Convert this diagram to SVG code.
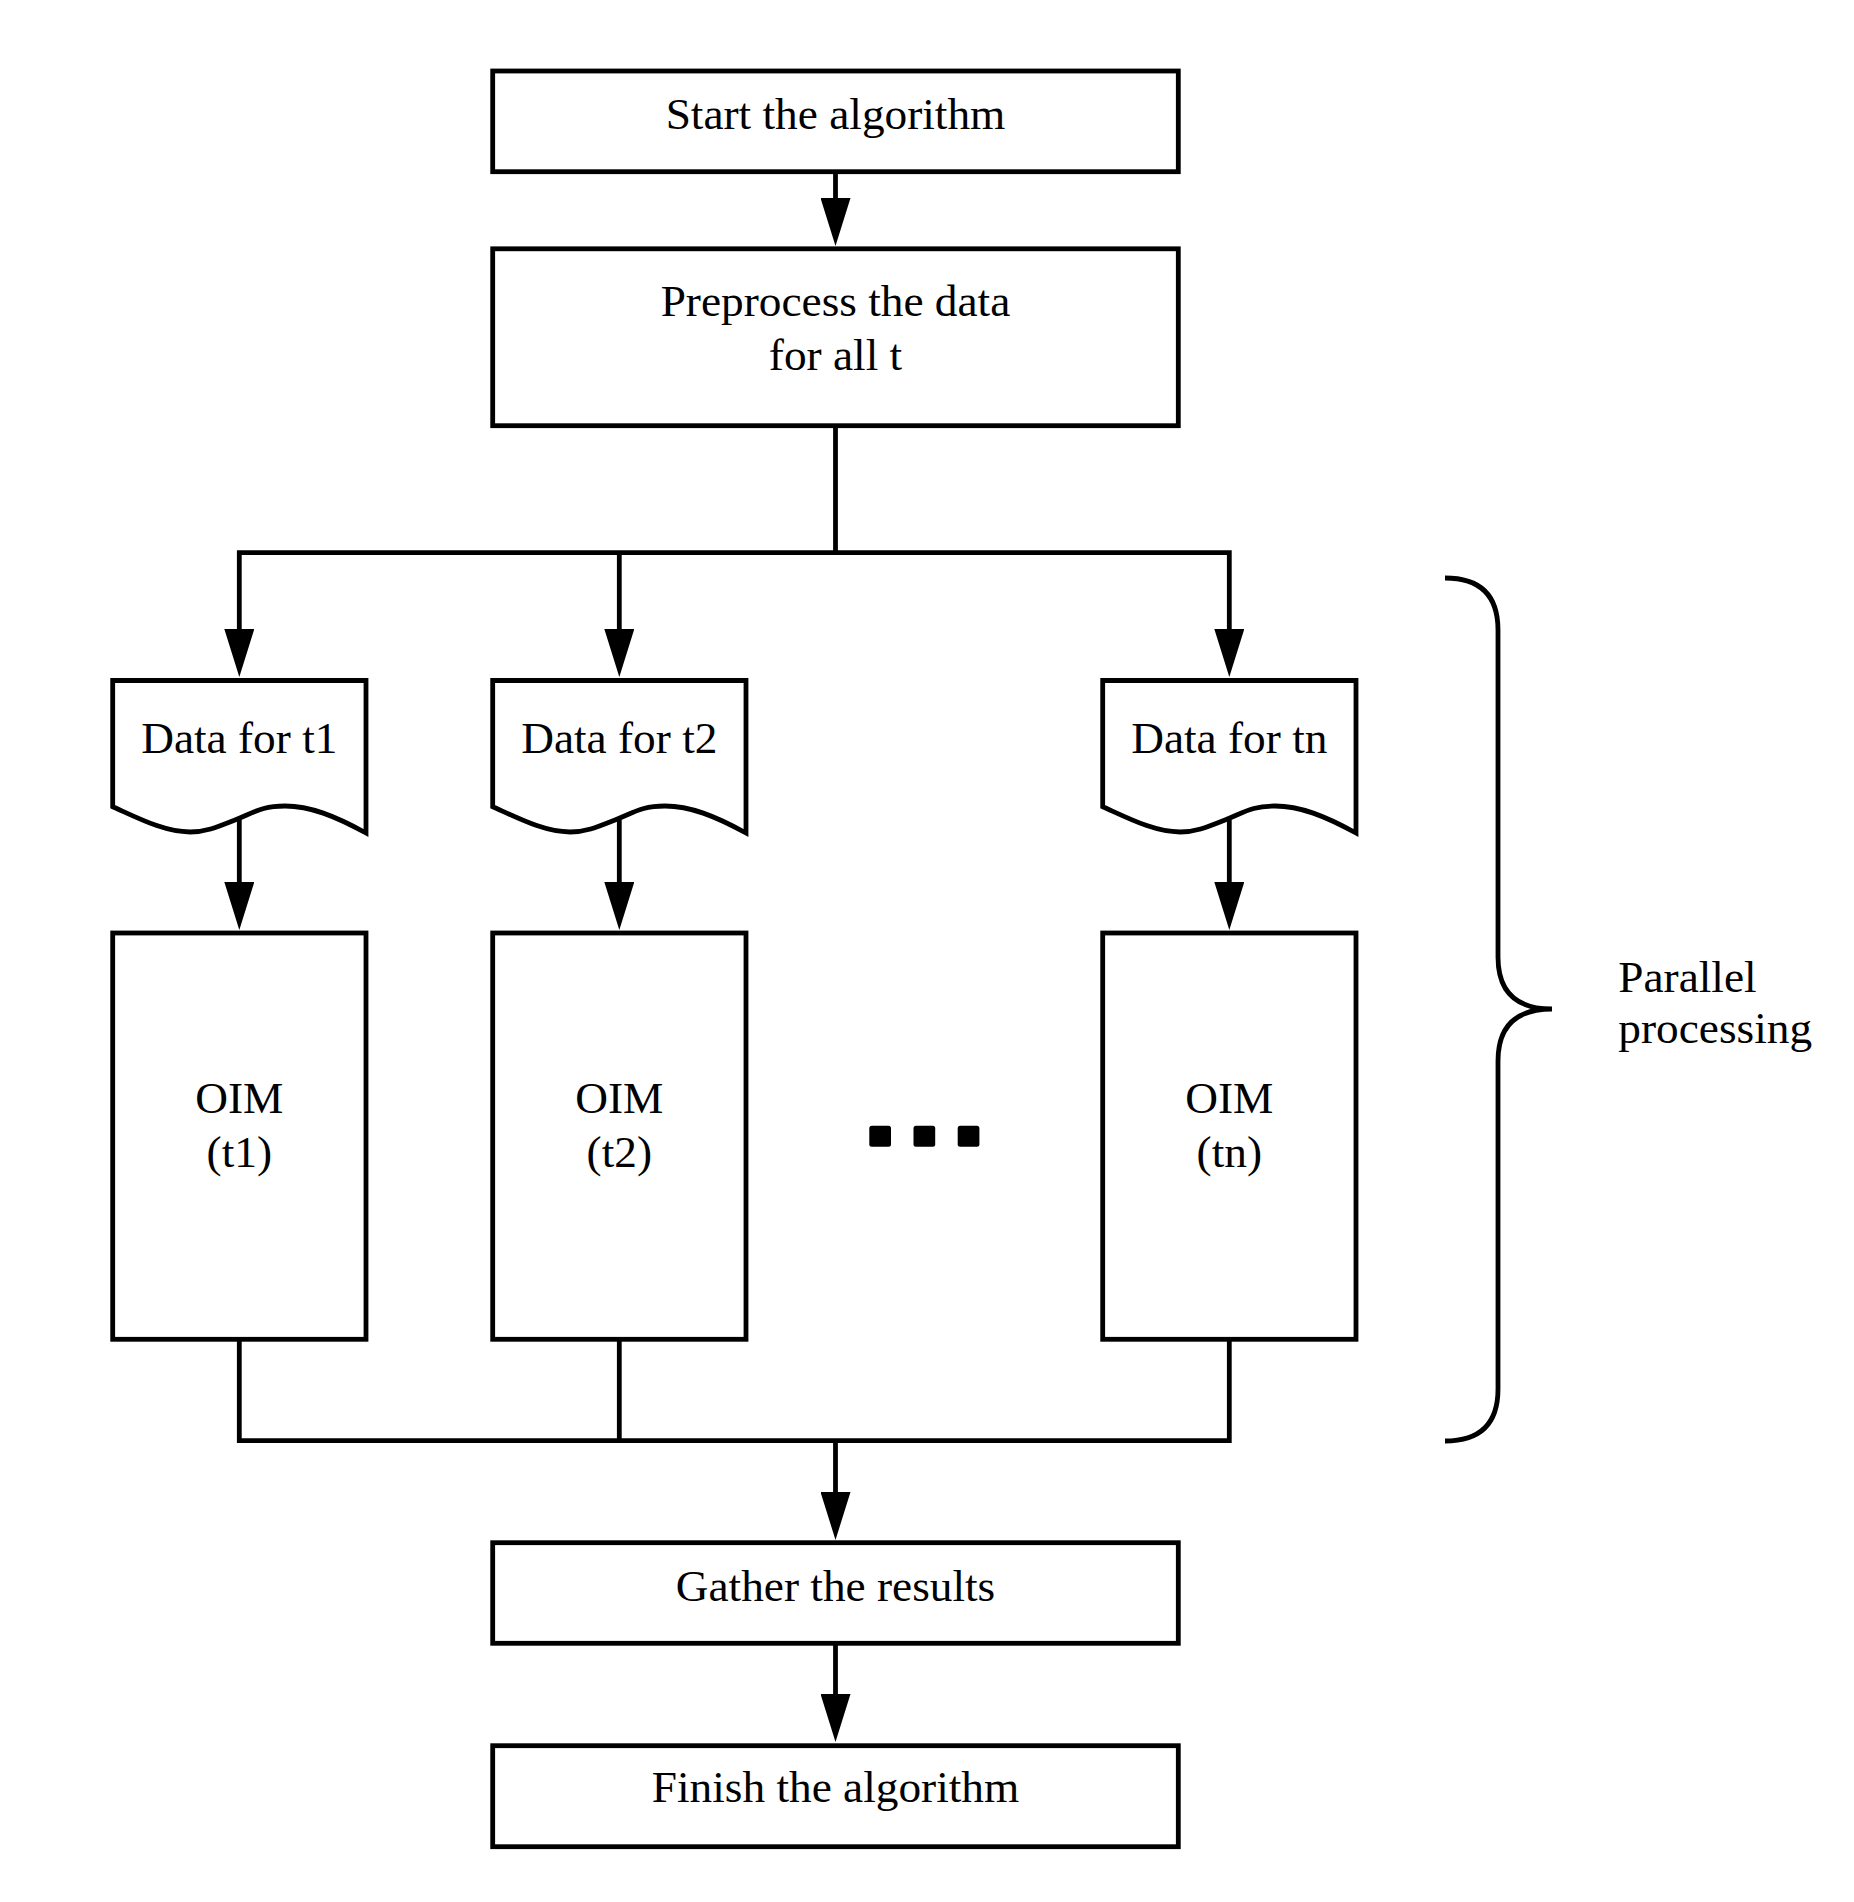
<svg xmlns="http://www.w3.org/2000/svg" width="1854" height="1902" viewBox="0 0 1854 1902">
<style>
.box{fill:#fff;stroke:#000;stroke-width:4.8}
.ln{fill:none;stroke:#000;stroke-width:4.8;stroke-linejoin:miter}
.t{font-family:"Liberation Serif","Times New Roman",serif;font-size:45.3px;fill:#000}
.c{text-anchor:middle}
</style>
<defs>
<marker id="ah" viewBox="0 0 48 30" refX="8" refY="15" markerWidth="48" markerHeight="30" markerUnits="userSpaceOnUse" orient="auto-start-reverse">
<path d="M0,0 L48,15 L0,30 Z" fill="#000"/>
</marker>
<path id="doc" d="M112.7,680.5 H366 V833 C335,816 310,806 285,806 C262,806 255,812 235,820 C215,828 205,832 190,832 C165,832 140,819 112.7,806.7 Z"/>
</defs>
<rect width="1854" height="1902" fill="#fff"/>

<g id="connectors">
<path class="ln" d="M835.5,171.7 V206" marker-end="url(#ah)"/>
<path class="ln" d="M835.5,425.7 V552.7"/>
<path class="ln" d="M239.3,637 V552.7 H1229.3 V637" marker-start="url(#ah)" marker-end="url(#ah)"/>
<path class="ln" d="M619.3,552.7 V637" marker-end="url(#ah)"/>
<path class="ln" d="M239.3,820 V890" marker-end="url(#ah)"/>
<path class="ln" d="M619.3,820 V890" marker-end="url(#ah)"/>
<path class="ln" d="M1229.3,820 V890" marker-end="url(#ah)"/>
<path class="ln" d="M239.3,1339.3 V1440.7 H1229.3 V1339.3"/>
<path class="ln" d="M619.3,1339.3 V1440.7"/>
<path class="ln" d="M835.5,1440.7 V1500" marker-end="url(#ah)"/>
<path class="ln" d="M835.5,1643.3 V1702" marker-end="url(#ah)"/>
</g>

<g id="start">
<rect class="box" x="492.7" y="71" width="685.6" height="100.7"/>
<text class="t c" x="835.5" y="129.3">Start the algorithm</text>
</g>

<g id="preprocess">
<rect class="box" x="492.7" y="248.8" width="685.6" height="176.9"/>
<text class="t c" x="835.5" y="316">Preprocess the data</text>
<text class="t c" x="835.5" y="370">for all t</text>
</g>

<g id="data1">
<use href="#doc" class="box"/>
<text class="t c" x="239.3" y="753.3">Data for t1</text>
</g>
<g id="data2">
<use href="#doc" class="box" transform="translate(380,0)"/>
<text class="t c" x="619.3" y="753.3">Data for t2</text>
</g>
<g id="datan">
<use href="#doc" class="box" transform="translate(990,0)"/>
<text class="t c" x="1229.3" y="753.3">Data for tn</text>
</g>

<g id="oim1">
<rect class="box" x="112.7" y="933" width="253.3" height="406.3"/>
<text class="t c" x="239.3" y="1113.3">OIM</text>
<text class="t c" x="239.3" y="1167.3">(t1)</text>
</g>
<g id="oim2">
<rect class="box" x="492.7" y="933" width="253.3" height="406.3"/>
<text class="t c" x="619.3" y="1113.3">OIM</text>
<text class="t c" x="619.3" y="1167.3">(t2)</text>
</g>
<g id="oimn">
<rect class="box" x="1102.7" y="933" width="253.3" height="406.3"/>
<text class="t c" x="1229.3" y="1113.3">OIM</text>
<text class="t c" x="1229.3" y="1167.3">(tn)</text>
</g>

<g id="ellipsis">
<rect x="869.3" y="1125.7" width="21.7" height="21" rx="2.5" fill="#000"/>
<rect x="913.5" y="1125.7" width="21.7" height="21" rx="2.5" fill="#000"/>
<rect x="957.7" y="1125.7" width="21.7" height="21" rx="2.5" fill="#000"/>
</g>

<g id="brace">
<path class="ln" d="M1445,578 Q1498,578 1498,630 V957 Q1498,1009 1552,1009 Q1498,1009 1498,1061 V1389 Q1498,1441 1445,1441"/>
<text class="t" x="1618.3" y="991.7">Parallel</text>
<text class="t" x="1618.3" y="1043.3">processing</text>
</g>

<g id="gather">
<rect class="box" x="492.7" y="1542.7" width="685.6" height="100.6"/>
<text class="t c" x="835.5" y="1600.7">Gather the results</text>
</g>

<g id="finish">
<rect class="box" x="492.7" y="1745.7" width="685.6" height="101"/>
<text class="t c" x="835.5" y="1801.7">Finish the algorithm</text>
</g>
</svg>
